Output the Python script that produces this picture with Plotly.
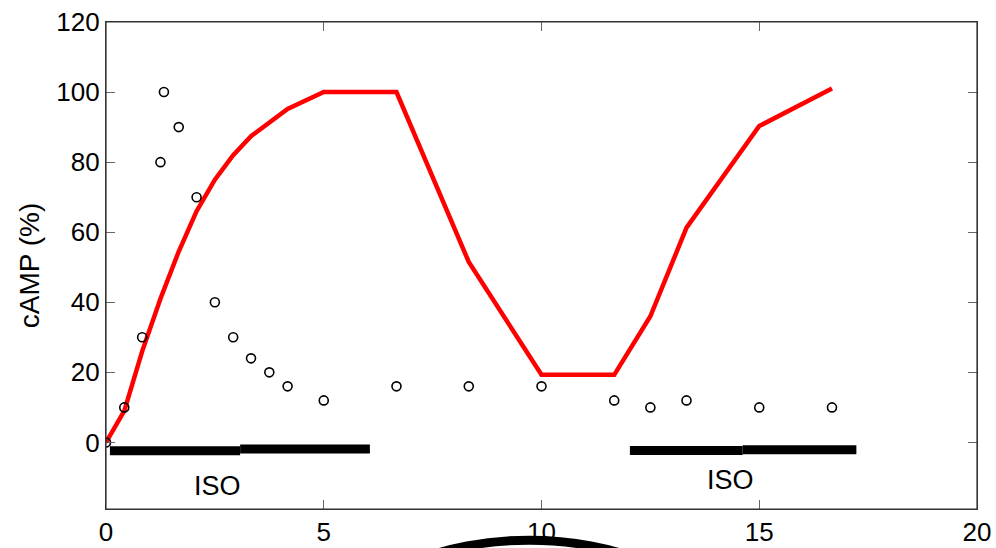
import plotly.graph_objects as go

# Measured data (circles)
data_x = [0, 0.42, 0.83, 1.25, 1.33, 1.67, 2.08, 2.5, 2.92, 3.33, 3.75, 4.17, 5,
          6.67, 8.33, 10, 11.67, 12.5, 13.33, 15, 16.67]
data_y = [0, 10, 30, 80, 100, 90, 70, 40, 30, 24, 20, 16, 12,
          16, 16, 16, 12, 10, 12, 10, 10]

# Model curve (red line)
model_x = [0, 0.42, 0.83, 1.25, 1.67, 2.08, 2.5, 2.92, 3.33, 3.75, 4.17, 5,
           6.67, 8.33, 10, 11.67, 12.5, 13.33, 15, 16.67]
model_y = [0, 9, 26, 41, 54.5, 66, 75, 82, 87.4, 91.5, 95.2, 100,
           100, 51.5, 19.3, 19.3, 36, 61.3, 90.3, 101]

# ISO application bars (segments)
iso_seg_x0 = [0.09, 3.08, 12.03, 14.62]
iso_seg_x1 = [3.08, 6.06, 14.62, 17.23]
iso_seg_y = [-2.4, -1.9, -2.3, -2.1]
iso_label_x = [2.56, 14.33]
iso_label_y = [-12.4, -10.7]
iso_label_text = ["ISO", "ISO"]

x_ticks = [0, 5, 10, 15, 20]
y_ticks = [0, 20, 40, 60, 80, 100, 120]

FONT = "Liberation Sans, Arial, Helvetica, sans-serif"

fig = go.Figure()

for x0, x1, yy in zip(iso_seg_x0, iso_seg_x1, iso_seg_y):
    fig.add_trace(go.Scatter(x=[x0, x1], y=[yy, yy], mode="lines",
                             line=dict(color="black", width=9),
                             showlegend=False, hoverinfo="skip"))

fig.add_trace(go.Scatter(x=model_x, y=model_y, mode="lines",
                         line=dict(color="#ff0000", width=4.5),
                         showlegend=False))

fig.add_trace(go.Scatter(x=data_x, y=data_y, mode="markers",
                         marker=dict(symbol="circle-open", size=9,
                                     color="black", line=dict(width=1.6, color="black")),
                         showlegend=False))

for tx, ty, tt in zip(iso_label_x, iso_label_y, iso_label_text):
    fig.add_annotation(x=tx, y=ty, text=tt, showarrow=False,
                       font=dict(family=FONT, size=27, color="black"),
                       xanchor="center", yanchor="middle")

# plot frame (box) around the axes area
fig.add_shape(type="rect", xref="paper", yref="paper", x0=0, x1=1, y0=0, y1=1,
              line=dict(color="#333333", width=1.2), fillcolor="rgba(0,0,0,0)",
              layer="above")

# decorative arc partially visible at the bottom of the figure
fig.add_shape(type="circle", xref="paper", yref="paper",
              x0=0.2928, x1=0.6785, y0=-0.3926, y1=-0.0641,
              line=dict(color="black", width=9), layer="above")

axis_common = dict(showgrid=False, zeroline=False, showline=True, automargin=False,
                   linecolor="#333333", linewidth=1.2, mirror="ticks",
                   ticks="inside", ticklen=9, tickcolor="#666666", tickwidth=1.2,
                   ticklabeloverflow="allow",
                   tickfont=dict(family=FONT, size=26, color="black"))

fig.update_layout(
    width=996, height=548,
    margin=dict(l=106, r=19, t=22, b=39),
    paper_bgcolor="white", plot_bgcolor="white",
    xaxis=dict(range=[0, 20], tickvals=x_ticks, ticktext=[str(v) for v in x_ticks],
               **axis_common),
    yaxis=dict(range=[-19, 120], tickvals=y_ticks, ticktext=[str(v) for v in y_ticks],
               title=dict(text="cAMP (%)", font=dict(family=FONT, size=28, color="black"),
                          standoff=8),
               **axis_common),
)

fig.write_html("out.html",
               config={"displayModeBar": False},
               post_script="document.body.style.margin='0';document.body.style.overflow='hidden';")
